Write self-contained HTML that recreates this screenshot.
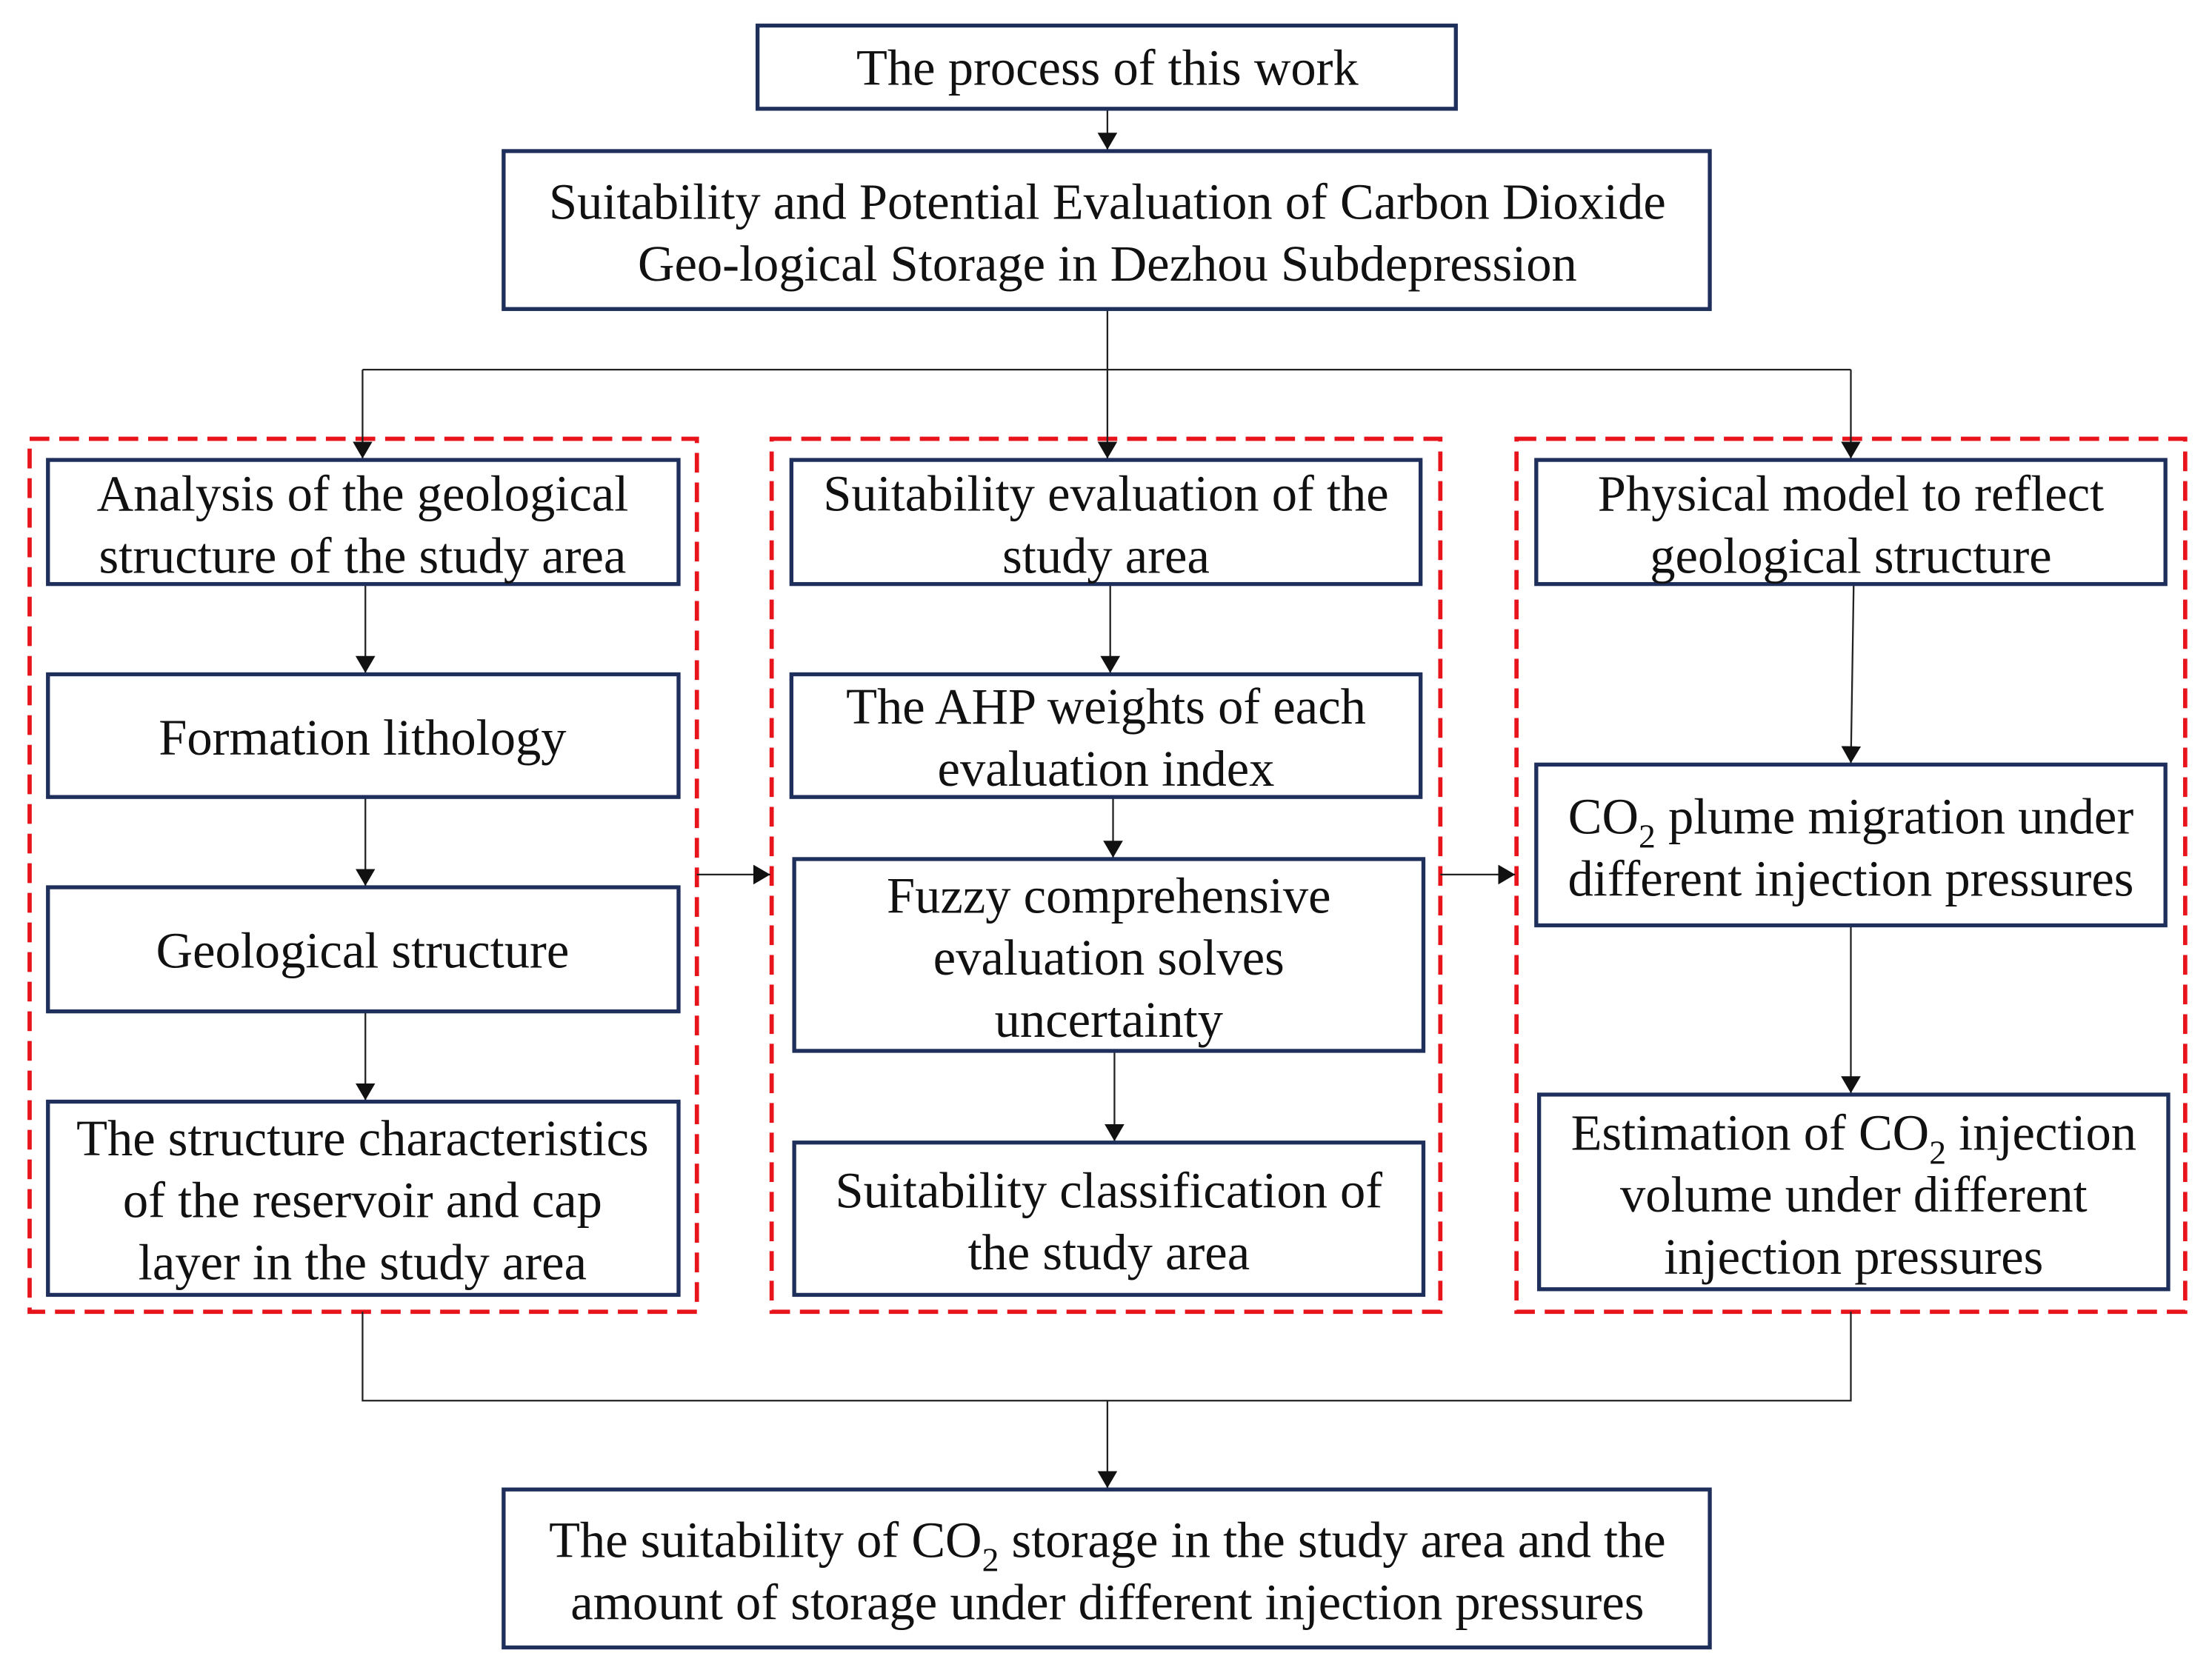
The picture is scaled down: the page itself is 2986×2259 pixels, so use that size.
<!DOCTYPE html>
<html><head><meta charset="utf-8"><style>
html,body{margin:0;padding:0;background:#fff;}
svg{display:block;}
text{font-family:"Liberation Serif",serif;font-size:36px;fill:#111;text-anchor:middle;}
.b{fill:#fff;stroke:#1f2f5c;stroke-width:2.8;}
.r{fill:none;stroke:#e8141c;stroke-width:3;stroke-dasharray:14 7;}
.l{stroke:#222;stroke-width:1.2;fill:none;}
</style></head><body>
<svg width="2986" height="2259" viewBox="0 0 1568 1186" xmlns="http://www.w3.org/2000/svg">
<defs><marker id="a" markerWidth="12" markerHeight="18" refX="12" refY="7" orient="auto" markerUnits="userSpaceOnUse"><path d="M0,0 L12,7 L0,14 z" fill="#111"/></marker></defs>

<rect class="r" x="21" y="311" width="473" height="619"/>
<rect class="r" x="547" y="311" width="474" height="619"/>
<rect class="r" x="1075" y="311" width="474" height="619"/>

<line class="l" x1="785" y1="77" x2="785" y2="106" marker-end="url(#a)"/>
<polyline class="l" points="785,219 785,262"/>
<polyline class="l" points="257,262 1312,262"/>
<line class="l" x1="257" y1="262" x2="257" y2="325" marker-end="url(#a)"/>
<line class="l" x1="785" y1="262" x2="785" y2="325" marker-end="url(#a)"/>
<line class="l" x1="1312" y1="262" x2="1312" y2="325" marker-end="url(#a)"/>

<line class="l" x1="259" y1="414" x2="259" y2="477" marker-end="url(#a)"/>
<line class="l" x1="259" y1="565" x2="259" y2="628" marker-end="url(#a)"/>
<line class="l" x1="259" y1="717" x2="259" y2="780" marker-end="url(#a)"/>

<line class="l" x1="787" y1="414" x2="787" y2="477" marker-end="url(#a)"/>
<line class="l" x1="789" y1="565" x2="789" y2="608" marker-end="url(#a)"/>
<line class="l" x1="790" y1="745" x2="790" y2="809" marker-end="url(#a)"/>

<line class="l" x1="1314" y1="414" x2="1312" y2="541" marker-end="url(#a)"/>
<line class="l" x1="1312" y1="656" x2="1312" y2="775" marker-end="url(#a)"/>

<line class="l" x1="494" y1="620" x2="546" y2="620" marker-end="url(#a)"/>
<line class="l" x1="1021" y1="620" x2="1074" y2="620" marker-end="url(#a)"/>

<polyline class="l" points="257,930 257,993 1312,993 1312,930"/>
<line class="l" x1="785" y1="993" x2="785" y2="1055" marker-end="url(#a)"/>

<rect class="b" x="537" y="18" width="495" height="59"/>
<text x="785" y="60">The process of this work</text>

<rect class="b" x="357" y="107" width="855" height="112"/>
<text x="785" y="155">Suitability and Potential Evaluation of Carbon Dioxide</text>
<text x="785" y="199">Geo-logical Storage in Dezhou Subdepression</text>

<rect class="b" x="34" y="326" width="447" height="88"/>
<text x="257" y="362">Analysis of the geological</text>
<text x="257" y="406">structure of the study area</text>

<rect class="b" x="34" y="478" width="447" height="87"/>
<text x="257" y="535">Formation lithology</text>

<rect class="b" x="34" y="629" width="447" height="88"/>
<text x="257" y="686">Geological structure</text>

<rect class="b" x="34" y="781" width="447" height="137"/>
<text x="257" y="819">The structure characteristics</text>
<text x="257" y="863">of the reservoir and cap</text>
<text x="257" y="907">layer in the study area</text>

<rect class="b" x="561" y="326" width="446" height="88"/>
<text x="784" y="362">Suitability evaluation of the</text>
<text x="784" y="406">study area</text>

<rect class="b" x="561" y="478" width="446" height="87"/>
<text x="784" y="513">The AHP weights of each</text>
<text x="784" y="557">evaluation index</text>

<rect class="b" x="563" y="609" width="446" height="136"/>
<text x="786" y="647">Fuzzy comprehensive</text>
<text x="786" y="691">evaluation solves</text>
<text x="786" y="735">uncertainty</text>

<rect class="b" x="563" y="810" width="446" height="108"/>
<text x="786" y="856">Suitability classification of</text>
<text x="786" y="900">the study area</text>

<rect class="b" x="1089" y="326" width="446" height="88"/>
<text x="1312" y="362">Physical model to reflect</text>
<text x="1312" y="406">geological structure</text>

<rect class="b" x="1089" y="542" width="446" height="114"/>
<text x="1312" y="591">CO<tspan font-size="24" dy="10">2</tspan><tspan dy="-10"> plume migration under</tspan></text>
<text x="1312" y="635">different injection pressures</text>

<rect class="b" x="1091" y="776" width="446" height="138"/>
<text x="1314" y="815">Estimation of CO<tspan font-size="24" dy="10">2</tspan><tspan dy="-10"> injection</tspan></text>
<text x="1314" y="859">volume under different</text>
<text x="1314" y="903">injection pressures</text>

<rect class="b" x="357" y="1056" width="855" height="112"/>
<text x="785" y="1104">The suitability of CO<tspan font-size="24" dy="10">2</tspan><tspan dy="-10"> storage in the study area and the</tspan></text>
<text x="785" y="1148">amount of storage under different injection pressures</text>
</svg>
</body></html>
